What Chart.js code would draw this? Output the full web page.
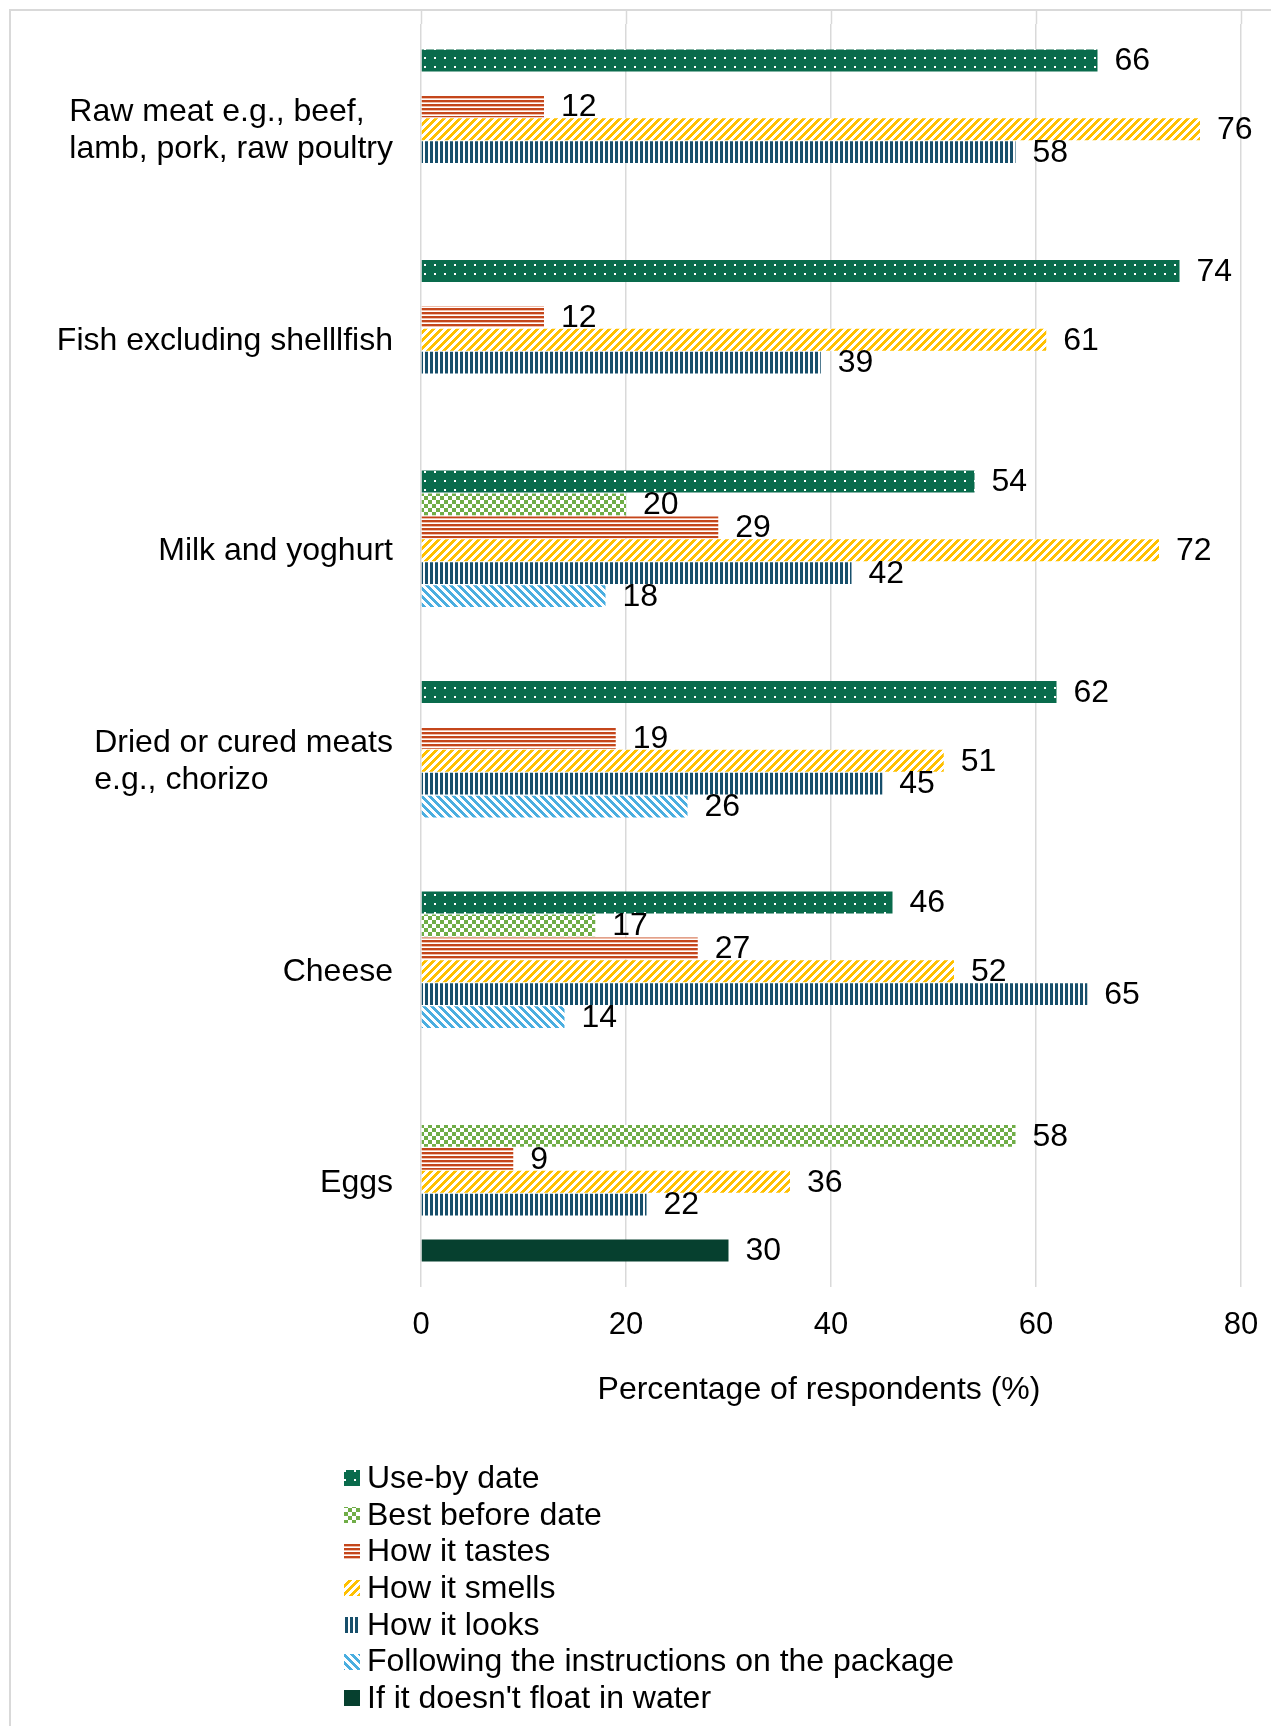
<!DOCTYPE html>
<html>
<head>
<meta charset="utf-8">
<script src="https://cdn.jsdelivr.net/npm/chart.js@4.4.1/dist/chart.umd.min.js"></script>
<style>
  html, body { margin: 0; padding: 0; background: #fff; }
  canvas { display: block; }
</style>
</head>
<body>
<canvas id="chart" width="1271" height="1726"></canvas>
<script>
// categories (multi-line labels as arrays)
const categories = [
  ["Raw meat e.g., beef,", "lamb, pork, raw poultry"],
  ["Fish excluding shelllfish"],
  ["Milk and yoghurt"],
  ["Dried or cured meats", "e.g., chorizo"],
  ["Cheese"],
  ["Eggs"]
];
const seriesNames = [
  "Use-by date",
  "Best before date",
  "How it tastes",
  "How it smells",
  "How it looks",
  "Following the instructions on the package",
  "If it doesn't float in water"
];
const useBy        = [66, 74, 54, 62, 46, null];
const bestBefore   = [null, null, 20, null, 17, 58];
const tastes       = [12, 12, 29, 19, 27, 9];
const smells       = [76, 61, 72, 51, 52, 36];
const looks        = [58, 39, 42, 45, 65, 22];
const instructions = [null, null, 18, 26, 14, null];
const floatTest    = [null, null, null, null, null, 30];
const xTicks = [0, 20, 40, 60, 80];
const axisTitle = "Percentage of respondents (%)";

const FONT = '"Liberation Sans", Arial, sans-serif';
const canvas = document.getElementById("chart");
const ctx = canvas.getContext("2d");

// pixel patterns like the Excel fills
function makePattern(w, h, paint) {
  const c = document.createElement("canvas");
  c.width = w; c.height = h;
  const g = c.getContext("2d");
  const img = g.createImageData(w, h);
  for (let y = 0; y < h; y++) {
    for (let x = 0; x < w; x++) {
      const col = paint(x, y);
      const k = (y * w + x) * 4;
      img.data[k] = col[0]; img.data[k + 1] = col[1]; img.data[k + 2] = col[2]; img.data[k + 3] = 255;
    }
  }
  g.putImageData(img, 0, 0);
  return ctx.createPattern(c, "repeat");
}
const WHITE = [255, 255, 255];
const cUseBy = [9, 107, 76];
const cBest = [112, 173, 71];
const cTaste = [196, 70, 27];
const cSmell = [255, 192, 0];
const cLook = [23, 79, 107];
const cInstr = [74, 174, 224];

const patterns = [
  makePattern(10, 9, (x, y) => ((x === 4 || x === 5) && (y === 3 || y === 4)) ? WHITE : cUseBy),
  makePattern(8, 8, (x, y) => (((x >> 2) + (y >> 2)) % 2) ? WHITE : cBest),
  makePattern(4, 4, (x, y) => y < 2 ? cTaste : (y === 2 ? [240, 190, 170] : WHITE)),
  makePattern(8, 8, (x, y) => ((x + y) % 8) < 4 ? cSmell : WHITE),
  makePattern(5, 4, (x, y) => x < 3 ? cLook : WHITE),
  makePattern(8, 8, (x, y) => ((x - y + 64) % 8) < 4 ? cInstr : WHITE),
  "#06402f"
];

const seriesData = [useBy, bestBefore, tastes, smells, looks, instructions, floatTest];

const frame = {
  id: "frame",
  beforeDraw(chart) {
    const c = chart.ctx;
    c.save();
    c.fillStyle = "#fff";
    c.fillRect(0, 0, chart.width, chart.height);
    c.strokeStyle = "#d9d9d9";
    c.lineWidth = 2;
    c.strokeRect(10, 10, 1400, 1900);
    c.restore();
  },
  beforeDatasetsDraw(chart) {
    // gridlines run up to the frame
    const c = chart.ctx, xs = chart.scales.x;
    c.save();
    c.strokeStyle = "#d9d9d9";
    c.lineWidth = 1.5;
    xTicks.forEach(v => {
      const x = Math.round(xs.getPixelForValue(v)) + 0.5;
      c.beginPath();
      c.moveTo(x, 11);
      c.lineTo(x, chart.chartArea.top);
      c.stroke();
    });
    c.restore();
  }
};

const labelsPlugin = {
  id: "labels",
  afterDatasetsDraw(chart) {
    const c = chart.ctx;
    c.save();
    c.font = "32px " + FONT;
    c.fillStyle = "#000";
    c.textBaseline = "middle";
    c.textAlign = "left";
    // value labels
    chart.data.datasets.forEach((ds, i) => {
      chart.getDatasetMeta(i).data.forEach((bar, j) => {
        const v = ds.data[j];
        if (v == null) return;
        c.fillText(String(v), bar.x + 17, bar.y + 1);
      });
    });
    // category labels: block right-aligned, lines left-aligned
    const ys = chart.scales.y;
    const lineH = 37;
    categories.forEach((lines, i) => {
      const cy = ys.getPixelForValue(i);
      const maxW = Math.max(...lines.map(t => c.measureText(t).width));
      const x0 = 393 - maxW;
      lines.forEach((t, k) => {
        c.fillText(t, x0, cy + (k - (lines.length - 1) / 2) * lineH + 1);
      });
    });
    // axis title
    c.textAlign = "center";
    c.fillText(axisTitle, 819, 1390);
    c.restore();
  },
  afterDraw(chart) {
    // legend, one item per row
    const c = chart.ctx;
    c.save();
    c.font = "32px " + FONT;
    c.textBaseline = "middle";
    chart.data.datasets.forEach((ds, i) => {
      const y = 1478 + i * 36.7;
      c.fillStyle = ds.backgroundColor;
      c.fillRect(344, Math.round(y - 8), 16, 16);
      c.fillStyle = "#000";
      c.fillText(ds.label, 367, y + 1);
    });
    c.restore();
  }
};

new Chart(canvas, {
  type: "bar",
  data: {
    labels: categories,
    datasets: seriesNames.map((name, i) => ({
      label: name,
      data: seriesData[i],
      backgroundColor: patterns[i],
      borderWidth: 0,
      categoryPercentage: 0.762,
      barPercentage: 0.95
    }))
  },
  options: {
    indexAxis: "y",
    responsive: false,
    animation: false,
    devicePixelRatio: 1,
    layout: { padding: { left: 0, right: 30, top: 24, bottom: 319 } },
    plugins: { legend: { display: false }, tooltip: { enabled: false } },
    scales: {
      x: {
        min: 0, max: 80,
        afterBuildTicks: s => { s.ticks = xTicks.map(v => ({ value: v })); },
        afterFit: s => { s.height = 120; s.paddingLeft = 0; s.paddingRight = 0; },
        grid: { color: "#d9d9d9", lineWidth: 1.5, drawTicks: false },
        border: { display: false },
        ticks: { color: "#000", padding: 20, font: { family: FONT, size: 31 } }
      },
      y: {
        afterFit: s => { s.width = 421; },
        grid: { display: false },
        border: { display: false },
        ticks: { display: false }
      }
    }
  },
  plugins: [frame, labelsPlugin]
});
</script>
</body>
</html>
